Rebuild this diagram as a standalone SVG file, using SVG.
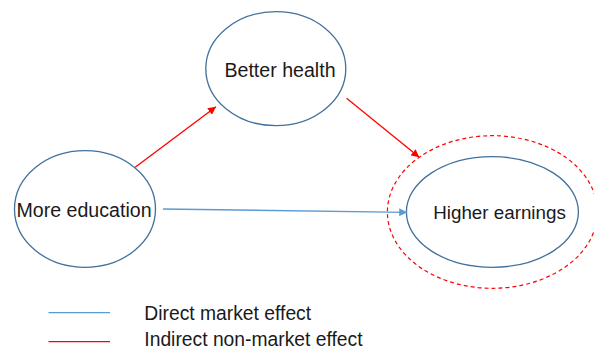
<svg xmlns="http://www.w3.org/2000/svg" width="594" height="350" viewBox="0 0 594 350">
<style>
.node{fill:#fff;stroke:#41719C;stroke-width:1.3}
.lbl{font-family:"Liberation Sans",Arial,sans-serif;font-size:19.6px;fill:#1a1a1a;text-anchor:middle}
.leg{font-family:"Liberation Sans",Arial,sans-serif;font-size:19.3px;fill:#1a1a1a}
.red{stroke:#FF0000;stroke-width:1.3;fill:none}
.blue{stroke:#5B9BD5;stroke-width:1.3;fill:none}
</style>
<defs>
<marker id="ar" viewBox="0 0 10 10" refX="10" refY="5" markerWidth="8" markerHeight="8" markerUnits="userSpaceOnUse" orient="auto"><path d="M0,0L10,5L0,10z" fill="#FF0000"/></marker>
<marker id="ab" viewBox="0 0 10 10" refX="10" refY="5" markerWidth="8" markerHeight="8" markerUnits="userSpaceOnUse" orient="auto"><path d="M0,0L10,5L0,10z" fill="#5B9BD5"/></marker>
</defs>
<rect width="594" height="350" fill="#fff"/>
<g id="more-education"><ellipse class="node" cx="85" cy="209" rx="70.5" ry="58.3"/><text class="lbl" x="84" y="216.5">More education</text></g>
<g id="better-health"><ellipse class="node" cx="275.8" cy="68.7" rx="70" ry="57"/><text class="lbl" x="280" y="76.5">Better health</text></g>
<g id="higher-earnings"><ellipse cx="492.4" cy="212" rx="105" ry="76.3" fill="none" stroke="#FF0000" stroke-width="1.2" stroke-dasharray="4,3"/><ellipse class="node" cx="492.4" cy="212" rx="86" ry="55.3"/><text class="lbl" x="499.5" y="218.5" style="font-size:18.8px">Higher earnings</text></g>
<g id="connectors">
<line class="red" x1="135.2" y1="167.3" x2="216" y2="106.7" marker-end="url(#ar)"/>
<line class="red" x1="346.6" y1="98.3" x2="419.3" y2="157.3" marker-end="url(#ar)"/>
<line class="blue" x1="162.9" y1="209" x2="407.2" y2="212.3" marker-end="url(#ab)"/>
</g>
<g id="legend">
<line class="blue" x1="48.5" y1="312.7" x2="110" y2="312.7"/>
<line class="red" x1="48.5" y1="341.7" x2="110" y2="341.7"/>
<text class="leg" x="144.3" y="320">Direct market effect</text>
<text class="leg" x="144.3" y="346">Indirect non-market effect</text>
</g>
</svg>
